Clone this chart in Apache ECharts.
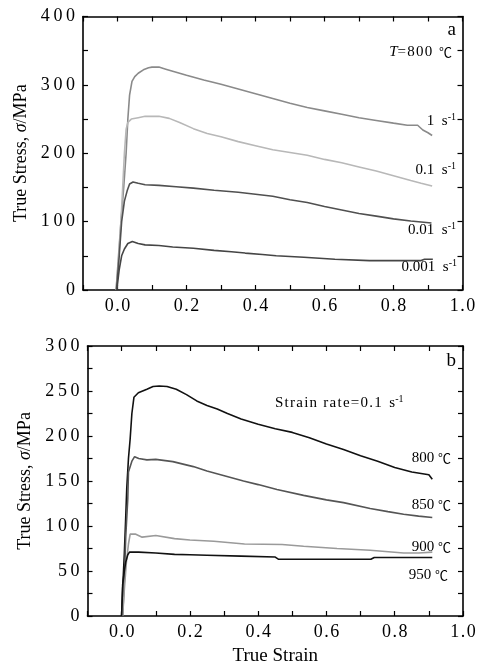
<!DOCTYPE html>
<html>
<head>
<meta charset="utf-8">
<script src="https://cdn.jsdelivr.net/npm/echarts@6/dist/echarts.min.js"></script>
<style>
html,body{margin:0;padding:0;background:#fff;}
#chart{width:483px;height:667px;}
</style>
</head>
<body>
<div id="chart"></div>
<script>
// ---------- DATA ----------
// Panel a: T = 800 °C, [true strain, true stress (MPa)]
const a_rate1 = [[-0.004,0],[0.003,50],[0.01,100],[0.018,150],[0.025,200],[0.03,250],[0.035,285],[0.042,305],[0.05,312],[0.06,317],[0.075,322],[0.09,325],[0.1,326],[0.12,326],[0.14,323],[0.16,320],[0.2,314],[0.25,307],[0.3,301],[0.35,294],[0.4,287],[0.45,280],[0.5,273],[0.55,267],[0.6,262],[0.65,257],[0.7,252],[0.75,248],[0.8,244],[0.84,241],[0.87,241],[0.885,234],[0.9,230],[0.912,226]];
const a_rate01 = [[-0.004,0],[0.004,50],[0.01,100],[0.015,150],[0.02,200],[0.025,235],[0.03,245],[0.04,250],[0.06,252],[0.08,254],[0.12,254],[0.15,251],[0.18,245],[0.22,236],[0.26,229],[0.3,224],[0.35,217],[0.4,211],[0.45,205],[0.5,201],[0.55,197],[0.6,191],[0.65,186],[0.7,180],[0.75,174],[0.8,167],[0.85,160],[0.88,156],[0.912,152]];
const a_rate001 = [[-0.003,0],[0.005,50],[0.012,100],[0.02,130],[0.028,145],[0.035,155],[0.045,158],[0.06,156],[0.08,154],[0.12,153],[0.17,151],[0.22,149],[0.28,146],[0.35,143],[0.4,140],[0.45,137],[0.5,132],[0.55,128],[0.6,122],[0.65,117],[0.7,112],[0.75,108],[0.8,104],[0.85,101],[0.91,98]];
const a_rate0001 = [[-0.002,0],[0.005,30],[0.012,50],[0.02,60],[0.03,68],[0.043,71],[0.06,68],[0.08,66],[0.12,65],[0.16,63],[0.22,61],[0.28,58],[0.33,56],[0.37,54],[0.42,52],[0.46,50],[0.54,48],[0.63,45],[0.73,43],[0.8,43],[0.88,43],[0.89,45],[0.914,45]];
// Panel b: strain rate = 0.1 s^-1
const b_t800 = [[0.0,0],[0.003,30],[0.008,70],[0.012,110],[0.015,142],[0.02,175],[0.025,197],[0.03,225],[0.036,243],[0.049,248],[0.074,252],[0.092,255],[0.11,255.5],[0.133,255],[0.16,252],[0.19,246],[0.22,239],[0.25,234],[0.28,230],[0.31,225],[0.35,219],[0.4,213],[0.45,208],[0.5,204],[0.55,198],[0.6,191],[0.65,185],[0.7,178],[0.75,172],[0.8,165],[0.85,160],[0.9,157],[0.905,157],[0.91,152]];
const b_t850 = [[0.003,0],[0.008,40],[0.012,88],[0.018,130],[0.02,160],[0.03,172],[0.038,177],[0.05,175],[0.074,173.5],[0.1,174],[0.15,171.5],[0.21,166],[0.25,161],[0.29,157],[0.357,150],[0.4,146],[0.455,140.5],[0.533,134],[0.6,129],[0.65,126],[0.728,119.5],[0.78,116],[0.826,113],[0.87,111],[0.91,109.5]];
const b_t900 = [[0.003,0],[0.008,30],[0.014,60],[0.02,80],[0.025,91],[0.04,91],[0.06,87.6],[0.1,89.4],[0.155,86],[0.2,84.5],[0.27,83],[0.36,80],[0.47,79.5],[0.533,77.5],[0.631,75],[0.728,73],[0.826,70],[0.87,70],[0.91,71]];
const b_t950 = [[0.0,0],[0.003,35],[0.008,50],[0.012,60],[0.018,68],[0.023,71],[0.05,71],[0.1,70],[0.155,68.5],[0.2,68],[0.25,67.5],[0.35,66.5],[0.45,65.5],[0.46,63],[0.6,63],[0.73,63],[0.74,65],[0.9,65],[0.91,65]];

const xRange = [-0.1, 1.0];
const xInterval = 0.1;
const aYRange = [0, 400];
const aYInterval = 50;
const bYRange = [0, 300];
const bYInterval = 25;

// ---------- CHART ----------
const FONT = "'Liberation Serif','Times New Roman','Noto Sans CJK SC',serif";
const chart = echarts.init(document.getElementById('chart'), null, {renderer:'canvas'});
const thin = '\u2009', hair = '\u200A';
const axisLineStyle = {color:'#000', width:1.6};

function xLab(v){ const k=Math.round(v*10); return (k%2===0 && k>=0) ? v.toFixed(1).split('').join(hair) : ''; }
function yLabA(v){ return (Math.round(v)%100===0) ? String(Math.round(v)).split('').join(thin) : ''; }
function yLabB(v){ return (Math.round(v)%50===0) ? String(Math.round(v)).split('').join(thin) : ''; }
function spaced(s){ return s.split('').join(hair); }

function xAx(grid, pos, showLabel, name){
  return {
    gridIndex:grid, type:'value', position:pos, min:xRange[0], max:xRange[1], interval:xInterval,
    axisLine:{show:true, onZero:false, lineStyle:axisLineStyle},
    axisTick:{show:true, inside:true, length:5, lineStyle:{color:'#000', width:1.2}},
    axisLabel:{show:showLabel, formatter:xLab, color:'#000', fontFamily:FONT, fontSize:18, margin:7},
    splitLine:{show:false},
    name: name || '', nameLocation:'middle', nameGap:31,
    nameTextStyle:{color:'#000', fontFamily:FONT, fontSize:19}
  };
}
function yAx(grid, pos, showLabel, range, interval, fmt, name){
  return {
    gridIndex:grid, type:'value', position:pos, min:range[0], max:range[1], interval:interval,
    axisLine:{show:true, onZero:false, lineStyle:axisLineStyle},
    axisTick:{show:true, inside:true, length:5, lineStyle:{color:'#000', width:1.2}},
    axisLabel:{show:showLabel, formatter:fmt, color:'#000', fontFamily:FONT, fontSize:18, margin:8},
    splitLine:{show:false},
    name: name ? '{n|True Stress, }{i|σ}{n|/MPa}' : '', nameLocation:'middle', nameGap:52, nameRotate:90,
    nameTextStyle:{color:'#000', rich:{n:{fontFamily:FONT, fontSize:18, color:'#000'}, i:{fontFamily:FONT, fontSize:18, fontStyle:'italic', color:'#000'}}}
  };
}
function line(data, color, xi, yi, w){
  return {type:'line', data:data, xAxisIndex:xi, yAxisIndex:yi, showSymbol:false, symbol:'none',
    lineStyle:{color:color, width:w||1.6}, silent:true, animation:false, z:3};
}
const richLab = {
  n:{fontFamily:FONT, fontSize:15, color:'#000', lineHeight:18},
  i:{fontFamily:FONT, fontSize:15, fontStyle:'italic', color:'#000', lineHeight:18},
  s:{fontFamily:FONT, fontSize:10, color:'#000', verticalAlign:'top', lineHeight:18, padding:[0,0,6,0]},
  c:{fontFamily:"'Noto Sans CJK SC',sans-serif", fontSize:13, color:'#000', lineHeight:18},
  big:{fontFamily:FONT, fontSize:19, color:'#000', lineHeight:20}
};
function txt(x, y, text, align){
  return {type:'text', x:x, y:y, silent:true, z:10,
    style:{text:text, rich:richLab, align:align||'right', verticalAlign:'middle', fill:'#000'}};
}

const option = {
  backgroundColor:'#fff',
  animation:false,
  grid:[
    {left:83, top:16.5, width:379.5, height:273.5},
    {left:87.5, top:346, width:375.5, height:274}
  ],
  xAxis:[
    xAx(0,'bottom',true), xAx(0,'top',false),
    xAx(1,'bottom',true,'True Strain'), xAx(1,'top',false)
  ],
  yAxis:[
    yAx(0,'left',true,aYRange,aYInterval,yLabA,true), yAx(0,'right',false,aYRange,aYInterval,yLabA),
    yAx(1,'left',true,bYRange,bYInterval,yLabB,true), yAx(1,'right',false,bYRange,bYInterval,yLabB)
  ],
  series:[
    line(a_rate1,'#8a8a8a',0,0),
    line(a_rate01,'#b8b8b8',0,0),
    line(a_rate001,'#505050',0,0),
    line(a_rate0001,'#454545',0,0),
    line(b_t800,'#111111',2,2),
    line(b_t850,'#555555',2,2),
    line(b_t900,'#9a9a9a',2,2),
    line(b_t950,'#111111',2,2)
  ],
  graphic:[
    txt(456,30,'{big|a}'),
    txt(452,52,'{i|T}{n|' + spaced('=800') + '\u2009 }{c|℃}'),
    txt(456,121,'{n|1  s}{s|-1}'),
    txt(456,170,'{n|0.1  s}{s|-1}'),
    txt(456,230,'{n|0.01  s}{s|-1}'),
    txt(457,267,'{n|0.001  s}{s|-1}'),
    txt(456,361,'{big|b}'),
    txt(275,403,'{n|' + spaced('Strain rate=0.1') + '  s}{s|-1}','left'),
    txt(451,458,'{n|800 }{c|℃}'),
    txt(451,505,'{n|850 }{c|℃}'),
    txt(451,547,'{n|900 }{c|℃}'),
    txt(448,575,'{n|950 }{c|℃}')
  ]
};
chart.setOption(option);
</script>
</body>
</html>
